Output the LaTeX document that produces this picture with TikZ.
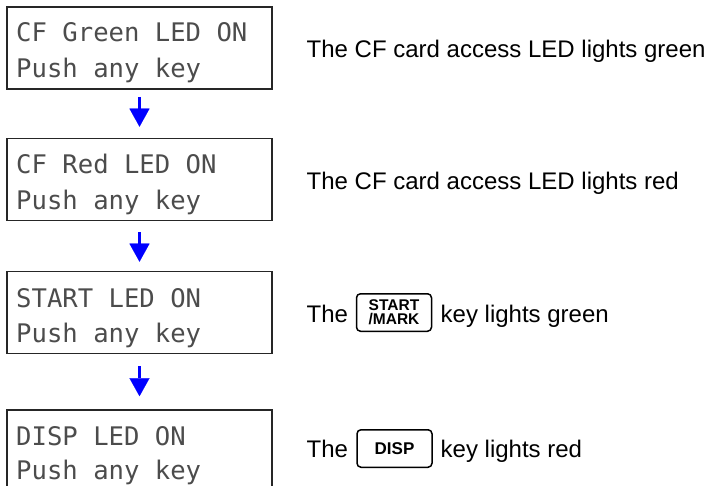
\documentclass[tikz,border=0pt]{standalone}
\usepackage{fontspec}
\setmainfont{Liberation Sans}
\newfontfamily\lcdfont{DejaVu Sans Mono}
\usetikzlibrary{arrows.meta}
\begin{document}
\begin{tikzpicture}[x=1pt,y=-1pt,
  lcdbox/.style={draw=black!85, line width=1.6pt, minimum width=265pt, minimum height=82pt, inner sep=0pt},
  lcdtext/.style={anchor=base west, inner sep=0pt, font=\lcdfont\fontsize{25.6}{30}\selectfont, text=black!70},
  desc/.style={anchor=base west, inner sep=0pt, font=\fontsize{24}{28}\selectfont},
  keybox/.style={draw, line width=1.5pt, rounded corners=4pt, minimum width=75pt, minimum height=37.5pt, inner sep=0pt, align=center, font=\bfseries\fontsize{15.5}{14}\selectfont},
  flow/.style={draw=blue, line width=3.5pt, -{Triangle[length=18pt,width=20pt,line width=0.1pt]}}]
\useasboundingbox (0,0) rectangle (706,486);

% LCD boxes
\node[lcdbox] (b1) at (139.5,48) {};
\node[lcdbox] (b2) at (139.5,179.5) {};
\node[lcdbox] (b3) at (139.5,312.5) {};
\node[lcdbox] (b4) at (139.5,451) {};

% LCD texts
\node[lcdtext] (t1a) at (16,42) {CF Green LED ON};
\node[lcdtext] (t1b) at (16,78) {Push any key};
\node[lcdtext] (t2a) at (16,174) {CF Red LED ON};
\node[lcdtext] (t2b) at (16,210) {Push any key};
\node[lcdtext] (t3a) at (16,307) {START LED ON};
\node[lcdtext] (t3b) at (16,342) {Push any key};
\node[lcdtext] (t4a) at (16,445) {DISP LED ON};
\node[lcdtext] (t4b) at (16,479) {Push any key};

% arrows
\draw[flow, shorten <=7pt, shorten >=11pt] (b1) -- (b2);
\draw[flow, shorten <=11pt, shorten >=9pt] (b2) -- (b3);
\draw[flow, shorten <=12pt, shorten >=13pt] (b3) -- (b4);

% descriptions
\node[desc] (d1) at (306.5,58) {The CF card access LED lights green};
\node[desc] (d2) at (306.5,190) {The CF card access LED lights red};
\node[desc] (d3a) at (306.5,322) {The};
\node[keybox] (k1) at (394,312.5) {START\\/MARK};
\node[desc] (d3b) at (440.5,322) {key lights green};
\node[desc] (d4a) at (306.5,457) {The};
\node[keybox, font=\bfseries\fontsize{17}{17}\selectfont] (k2) at (394.5,448.5) {DISP};
\node[desc] (d4b) at (440.5,457) {key lights red};
\end{tikzpicture}
\end{document}
